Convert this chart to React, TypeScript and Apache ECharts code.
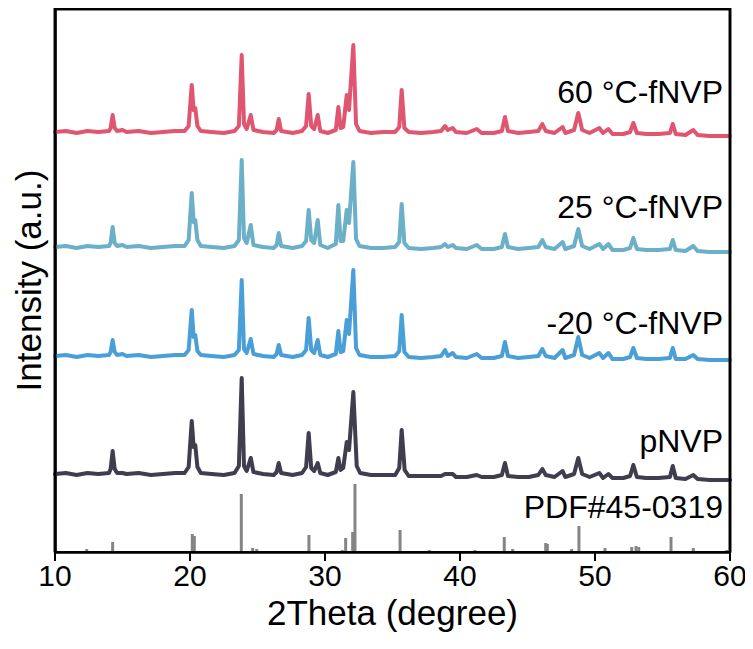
import React, { useEffect, useRef } from "react";
import * as echarts from "echarts";

// 2θ tick values shown on the x axis
const X_TICKS = [10, 20, 30, 40, 50, 60];

// Sample names (top to bottom)
const SAMPLE_NAMES = ["60 °C-fNVP", "25 °C-fNVP", "-20 °C-fNVP", "pNVP"];
const REF_NAME = "PDF#45-0319";

// Vertical stacking offsets (a.u.) of each pattern
const SAMPLE_OFFSETS = [420, 305, 196, 78];

// Patterns: [2θ, intensity above own offset] (a.u.)
const fNVP60 = [
  [10, 0], [10.8, 1], [11.6, -1], [12.4, 1], [13.2, 0], [14.0, 1], [14.12, 4], [14.27, 17], [14.42, 4], [14.6, 1],
  [15.0, 2], [15.3, 0], [16.2, 1], [17.1, -1], [18.0, 0], [18.9, 1], [19.6, 1], [19.9, 6], [20.13, 47], [20.27, 22],
  [20.39, 24], [20.55, 6], [20.8, 1], [21.6, 0], [22.5, -1], [23.3, 1], [23.62, 6], [23.83, 77], [24.0, 8], [24.2, 3],
  [24.5, 17], [24.7, 2], [25.4, 0], [26.2, -1], [26.42, 2], [26.57, 13], [26.75, 1], [27.6, -1], [28.3, 1], [28.6, 6],
  [28.79, 38], [28.98, 6], [29.2, 3], [29.46, 17], [29.65, 1], [30.2, -1], [30.8, 2], [30.99, 25], [31.15, 4], [31.35, 5],
  [31.61, 37], [31.78, 22], [32.1, 87], [32.3, 8], [32.55, 1], [33.4, -1], [34.3, 0], [35.2, 0], [35.5, 5], [35.68, 42],
  [35.88, 4], [36.2, 0], [37.1, -1], [38.0, 0], [38.6, 1], [38.89, 6], [39.1, 2], [39.46, 4], [39.7, 0], [40.5, -1],
  [41.24, 3], [41.6, -1], [42.5, -1], [43.1, 1], [43.33, 15], [43.55, 1], [44.3, -1], [45.1, 0], [45.8, 1], [46.1, 8],
  [46.35, 1], [47.0, -1], [47.6, 5], [47.8, -1], [48.45, 2], [48.76, 19], [49.05, 2], [49.6, -1], [50.32, 4], [50.6, -1],
  [50.99, 3], [51.3, -2], [52.1, -2], [52.6, 0], [52.84, 9], [53.1, -1], [53.8, -2], [54.7, -2], [55.55, -1], [55.76, 8],
  [55.98, -2], [56.7, -3], [57.28, 2], [57.6, -3], [58.5, -4], [59.3, -4], [60, -4],
];

const fNVP25 = [
  [10, 0], [10.8, 1], [11.6, -1], [12.4, 1], [13.2, 0], [14.0, 1], [14.12, 4], [14.27, 20], [14.42, 4], [14.6, 1],
  [15.0, 2], [15.3, 0], [16.2, 1], [17.1, -1], [18.0, 0], [18.9, 1], [19.6, 1], [19.9, 7], [20.13, 54], [20.27, 25],
  [20.39, 27], [20.55, 7], [20.8, 1], [21.6, 0], [22.5, -1], [23.3, 1], [23.62, 7], [23.83, 87], [24.0, 9], [24.2, 4],
  [24.5, 22], [24.7, 2], [25.4, 0], [26.2, -1], [26.42, 2], [26.57, 14], [26.75, 1], [27.6, -1], [28.3, 1], [28.6, 6],
  [28.79, 37], [28.98, 7], [29.2, 4], [29.46, 27], [29.65, 2], [30.2, -1], [30.8, 3], [30.99, 42], [31.15, 6], [31.35, 6],
  [31.61, 37], [31.78, 24], [32.1, 85], [32.3, 8], [32.55, 1], [33.4, -1], [34.3, -1], [35.2, 0], [35.5, 5], [35.68, 43],
  [35.88, 4], [36.2, -1], [37.1, -2], [38.0, -1], [38.6, 0], [38.89, 3], [39.1, 0], [39.46, 2], [39.7, -1], [40.5, -2],
  [41.24, 2], [41.6, -2], [42.5, -2], [43.1, 0], [43.33, 13], [43.55, 0], [44.3, -2], [45.1, -1], [45.8, 0], [46.1, 7],
  [46.35, 0], [47.0, -2], [47.6, 5], [47.8, -2], [48.45, 1], [48.76, 18], [49.05, 1], [49.6, -2], [50.32, 3], [50.6, -2],
  [50.99, 3], [51.3, -3], [52.1, -3], [52.6, -1], [52.84, 9], [53.1, -2], [53.8, -3], [54.7, -3], [55.55, -2], [55.76, 7],
  [55.98, -3], [56.7, -4], [57.28, 1], [57.6, -4], [58.5, -5], [59.3, -5], [60, -5],
];

const fNVPm20 = [
  [10, 0], [10.8, 1], [11.6, -1], [12.4, 1], [13.2, 0], [14.0, 1], [14.12, 4], [14.27, 16], [14.42, 4], [14.6, 1],
  [15.0, 2], [15.3, 0], [16.2, 1], [17.1, -1], [18.0, 0], [18.9, 1], [19.6, 1], [19.9, 6], [20.13, 46], [20.27, 19],
  [20.39, 21], [20.55, 5], [20.8, 1], [21.6, 0], [22.5, -1], [23.3, 1], [23.62, 6], [23.83, 76], [24.0, 7], [24.2, 3],
  [24.5, 17], [24.7, 2], [25.4, 0], [26.2, -1], [26.42, 2], [26.57, 11], [26.75, 1], [27.6, -1], [28.3, 1], [28.6, 6],
  [28.79, 38], [28.98, 6], [29.2, 3], [29.46, 16], [29.65, 1], [30.2, -1], [30.8, 2], [30.99, 25], [31.15, 4], [31.35, 5],
  [31.61, 36], [31.78, 22], [32.1, 86], [32.3, 8], [32.55, 1], [33.4, -1], [34.3, -1], [35.2, 0], [35.5, 5], [35.68, 41],
  [35.88, 4], [36.2, -1], [37.1, -2], [38.0, -1], [38.6, 0], [38.89, 6], [39.1, 0], [39.46, 3], [39.7, -1], [40.5, -2],
  [41.24, 2], [41.6, -2], [42.5, -2], [43.1, 0], [43.33, 14], [43.55, 0], [44.3, -2], [45.1, -1], [45.8, 0], [46.1, 7],
  [46.35, 0], [47.0, -2], [47.6, 6], [47.8, -2], [48.45, 1], [48.76, 19], [49.05, 1], [49.6, -2], [50.32, 3], [50.6, -2],
  [50.99, 3], [51.3, -3], [52.1, -3], [52.6, -1], [52.84, 8], [53.1, -2], [53.8, -3], [54.7, -3], [55.55, -2], [55.76, 8],
  [55.98, -3], [56.7, -3], [57.28, 1], [57.6, -3], [58.5, -4], [59.3, -4], [60, -4],
];

const pNVP = [
  [10, 0], [10.8, 1], [11.6, -1], [12.4, 1], [13.2, 0], [14.0, 1], [14.12, 5], [14.27, 23], [14.42, 5], [14.6, 1],
  [15.0, 1], [15.3, 0], [16.2, 1], [17.1, -1], [18.0, 0], [18.9, 1], [19.6, 1], [19.9, 7], [20.13, 53], [20.27, 27],
  [20.39, 29], [20.55, 7], [20.8, 1], [21.6, 0], [22.5, -1], [23.3, 1], [23.62, 8], [23.83, 96], [24.0, 8], [24.2, 3],
  [24.5, 16], [24.7, 2], [25.4, 0], [26.2, -1], [26.42, 2], [26.57, 11], [26.75, 1], [27.6, -1], [28.3, 1], [28.6, 7],
  [28.79, 41], [28.98, 6], [29.2, 3], [29.46, 11], [29.65, 1], [30.2, -1], [30.8, 2], [30.99, 16], [31.15, 4], [31.35, 6],
  [31.61, 32], [31.78, 24], [32.1, 82], [32.35, 8], [32.6, 1], [33.4, -1], [34.3, -1], [35.2, -1], [35.5, 6], [35.68, 44],
  [35.9, 4], [36.2, -2], [37.1, -2], [38.0, -2], [38.6, -2], [38.89, 0], [39.46, 0], [39.7, -3], [40.5, -3],
  [41.24, -1], [41.6, -3], [42.5, -3], [43.1, -1], [43.33, 11], [43.55, -2], [44.3, -3], [45.1, -3], [45.8, -1], [46.1, 5],
  [46.35, -1], [47.0, -3], [47.6, 3], [47.8, -3], [48.45, 0], [48.76, 16], [49.05, 0], [49.6, -3], [50.32, 1], [50.6, -4],
  [50.99, 0], [51.3, -4], [52.1, -4], [52.6, -2], [52.84, 9], [53.1, -3], [53.8, -4], [54.7, -4], [55.55, -3], [55.76, 8],
  [55.98, -4], [56.7, -5], [57.28, -1], [57.6, -5], [58.5, -6], [59.3, -6], [60, -6],
];

// Reference card PDF#45-0319: [2θ, relative intensity]
const PDF_STICKS = [
  [12.35, 3], [14.27, 10], [20.17, 18], [20.32, 16], [23.8, 58], [24.64, 4], [24.94, 3], [28.81, 17], [31.28, 2],
  [31.53, 14], [32.05, 20], [32.22, 68], [35.56, 22], [37.73, 2], [41.11, 2], [43.28, 15], [43.9, 3], [46.35, 9],
  [46.47, 8], [48.27, 3], [48.81, 26], [50.74, 4], [52.72, 5], [53.04, 6], [53.24, 5], [55.63, 15], [57.28, 4], [59.76, 2],
];

const SAMPLE_DATA = [fNVP60, fNVP25, fNVPm20, pNVP];
const SAMPLE_COLORS = ["#E05670", "#6BAFC8", "#4A9FD8", "#3F3D4E"];
const PDF_COLOR = "#858585";

const FONT = '"Liberation Sans", Arial, Helvetica, sans-serif';

const GRID = { left: 55, right: 23, top: 9, bottom: 97 };
const W = 753;
const H = 649;

export default function App() {
  const ref = useRef<HTMLDivElement>(null);

  useEffect(() => {
    if (!ref.current) return;
    const chart = echarts.init(ref.current, undefined, { renderer: "svg" });

    const lineSeries = SAMPLE_DATA.map((d, i) => ({
      type: "line",
      name: SAMPLE_NAMES[i],
      data: d.map(([x, y]) => [x, y + SAMPLE_OFFSETS[i]]),
      showSymbol: false,
      symbol: "none",
      lineStyle: { color: SAMPLE_COLORS[i], width: 4, join: "round", cap: "round" },
      z: 3,
    }));

    const x0 = GRID.left;
    const x1 = W - GRID.right;
    const y0 = GRID.top;
    const y1 = H - GRID.bottom;

    const labelY = [92, 207, 323, 441, 507];
    const graphics: any[] = [
      {
        type: "polyline",
        shape: { points: [[x0, y1], [x0, y0], [x1, y0], [x1, y1]] },
        style: { stroke: "#101010", lineWidth: 3 },
        z: 20,
      },
      ...[...SAMPLE_NAMES, REF_NAME].map((t, i) => ({
        type: "text",
        x: 723,
        y: labelY[i],
        style: {
          text: t,
          fill: "#000",
          font: `32px ${FONT}`,
          align: "right",
          verticalAlign: "middle",
        },
        z: 10,
      })),
    ];

    chart.setOption({
      animation: false,
      textStyle: { fontFamily: FONT },
      grid: { ...GRID, show: true, borderColor: "#000000", borderWidth: 2 },
      xAxis: {
        type: "value",
        min: X_TICKS[0],
        max: X_TICKS[X_TICKS.length - 1],
        interval: 10,
        axisLine: { show: true, onZero: false, lineStyle: { color: "#000", width: 2.5 } },
        axisTick: { show: true, inside: false, length: 9, lineStyle: { color: "#000", width: 2 } },
        axisLabel: { color: "#000", fontSize: 30, margin: 8, fontFamily: FONT },
        splitLine: { show: false },
        name: "2Theta (degree)",
        nameLocation: "middle",
        nameGap: 41,
        nameTextStyle: { color: "#000", fontSize: 35, fontFamily: FONT },
      },
      yAxis: {
        type: "value",
        min: 0,
        max: 543,
        axisLine: { show: true, onZero: false, lineStyle: { color: "#000", width: 2.5 } },
        axisTick: { show: false },
        axisLabel: { show: false },
        splitLine: { show: false },
        name: "Intensity (a.u.)",
        nameLocation: "middle",
        nameGap: 9,
        nameTextStyle: { color: "#000", fontSize: 35, fontFamily: FONT },
      },
      series: [
        {
          type: "bar",
          name: REF_NAME,
          data: PDF_STICKS,
          barWidth: 3,
          itemStyle: { color: PDF_COLOR },
          z: 2,
        },
        ...lineSeries,
      ],
      graphic: graphics,
    });

    return () => chart.dispose();
  }, []);

  return (
    <div style={{ position: "relative", width: W, height: H, margin: -8 }}>
      <div ref={ref} style={{ width: W, height: H }} />
      <div
        style={{
          position: "absolute",
          left: GRID.left - 1,
          top: GRID.top - 1,
          width: W - GRID.left - GRID.right + 2,
          height: H - GRID.top - GRID.bottom + 2,
          border: "2px solid #000",
          boxSizing: "border-box",
          pointerEvents: "none",
        }}
      />
    </div>
  );
}
